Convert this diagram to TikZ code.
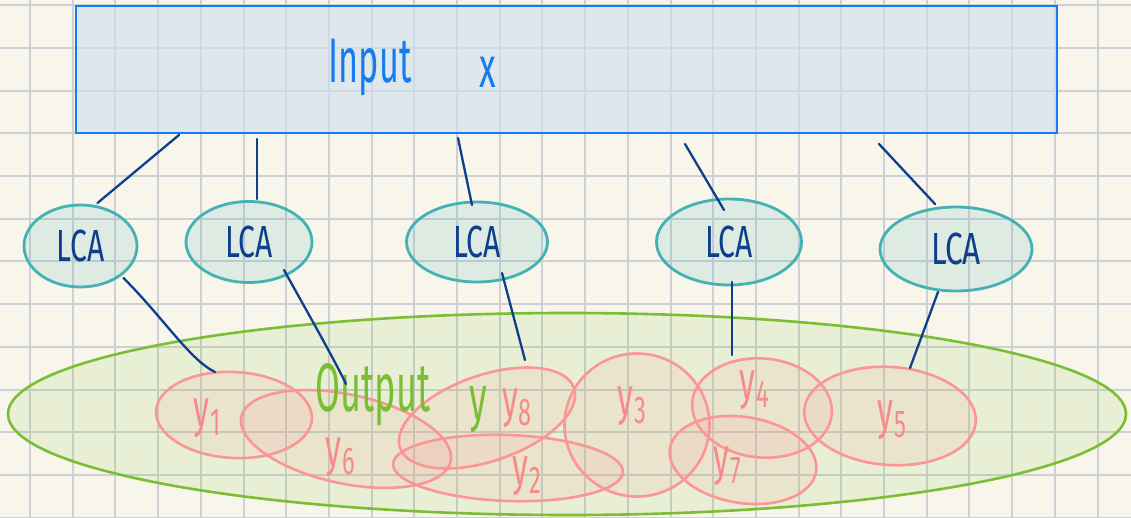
\documentclass[tikz,border=0pt]{standalone}
\usepackage{fontspec}
\setmainfont{Fira Sans}
\usetikzlibrary{shapes.geometric}
\definecolor{paper}{RGB}{248,246,235}
\definecolor{gridc}{RGB}{206,208,213}
\definecolor{boxblue}{RGB}{22,122,240}
\definecolor{boxfill}{RGB}{205,224,238}
\definecolor{lcateal}{RGB}{68,178,180}
\definecolor{linknavy}{RGB}{14,62,140}
\definecolor{outgreen}{RGB}{122,190,52}
\definecolor{pinkline}{RGB}{250,150,150}
\definecolor{pinktext}{RGB}{248,138,138}

% hand-lettered text: font size, horizontal and vertical stretch
\newcommand\handtxt[4]{\scalebox{#2}[#3]{\fontsize{#1}{#1}\selectfont #4}}
% cluster label y with a lowered index
\newcommand\ylabel[1]{\scalebox{0.95}[1.55]{\fontsize{34}{34}\selectfont y\kern1pt\raisebox{-6pt}{\fontsize{25}{25}\selectfont #1}}}

\begin{document}
\begin{tikzpicture}[x=1pt,y=-1pt,
  gridline/.style={draw=gridc, line width=2pt},
  inputbox/.style={rectangle, draw=boxblue, line width=2.8pt, fill=boxfill,
    fill opacity=0.6, text opacity=1, inner sep=0pt},
  lca/.style={ellipse, draw=lcateal, line width=2.8pt, fill=lcateal,
    fill opacity=0.15, text opacity=1, text=linknavy, inner sep=0pt},
  outset/.style={ellipse, draw=outgreen, line width=2.6pt, fill=outgreen,
    fill opacity=0.12, inner sep=0pt},
  ycls/.style={ellipse, draw=pinkline, line width=2.6pt, fill=pinkline,
    fill opacity=0.12, inner sep=0pt},
  ytext/.style={text=pinktext, inner sep=0pt},
  link/.style={draw=linknavy, line width=2.3pt, line cap=round}]

% paper and squared grid
\fill[paper] (0,0) rectangle (1131,518);
\useasboundingbox (0,0) rectangle (1131,518);
\foreach \i in {0,...,25} \draw[gridline] ({30+42.7*\i},0) -- ++(0,518);
\foreach \j in {0,...,12} \draw[gridline] (0,{5.3+42.7*\j}) -- ++(1131,0);

% input box
\node[inputbox, minimum width=981pt, minimum height=127pt] (inp) at (566.5,69.5) {};
\node[text=boxblue, inner sep=0pt] (inlab) at (370,68) {\handtxt{36}{0.95}{1.75}{Input}};
\node[text=boxblue, inner sep=0pt] (xlab) at (488,72) {\handtxt{36}{0.95}{1.6}{x}};

% output set
\node[outset, minimum width=1118pt, minimum height=202pt] (out) at (567,414) {};

% clusters inside the output
\node[ycls, minimum width=156pt, minimum height=86pt, rotate=-3] (y1) at (234,415) {};
\node[ycls, minimum width=214pt, minimum height=89pt, rotate=-12] (y6) at (346,439) {};
\node[ycls, minimum width=184pt, minimum height=86pt, rotate=19] (y8) at (487,418) {};
\node[ycls, minimum width=230pt, minimum height=66pt, rotate=-2] (y2) at (508,468) {};
\node[ycls, minimum width=145pt, minimum height=143pt] (y3) at (637,425) {};
\node[ycls, minimum width=140pt, minimum height=99pt, rotate=-5] (y4) at (762,408) {};
\node[ycls, minimum width=148pt, minimum height=86pt, rotate=-9] (y7) at (743,460) {};
\node[ycls, minimum width=172pt, minimum height=98pt, rotate=-4] (y5) at (890,416) {};

\node[text=outgreen, inner sep=0pt] (outlab) at (373,395) {\handtxt{38}{0.95}{1.8}{Output}};
\node[text=outgreen, inner sep=0pt] (ylab) at (478,410) {\handtxt{38}{0.95}{1.65}{y}};

\node[ytext] (t1) at (207,418) {\ylabel{1}};
\node[ytext] (t6) at (340,457) {\ylabel{6}};
\node[ytext] (t8) at (517,408) {\ylabel{8}};
\node[ytext] (t2) at (527,476) {\ylabel{2}};
\node[ytext] (t3) at (632,406) {\ylabel{3}};
\node[ytext] (t4) at (754,390) {\ylabel{4}};
\node[ytext] (t7) at (727,466) {\ylabel{7}};
\node[ytext] (t5) at (892,420) {\ylabel{5}};

% LCA nodes
\node[lca, minimum width=113pt, minimum height=82pt] (l1) at (80.5,246) {\handtxt{30}{1}{1.5}{LCA}};
\node[lca, minimum width=126pt, minimum height=81pt] (l2) at (249,242) {\handtxt{30}{1}{1.5}{LCA}};
\node[lca, minimum width=141pt, minimum height=80pt] (l3) at (477,242) {\handtxt{30}{1}{1.5}{LCA}};
\node[lca, minimum width=145pt, minimum height=86pt] (l4) at (729,242) {\handtxt{30}{1}{1.5}{LCA}};
\node[lca, minimum width=152pt, minimum height=84pt] (l5) at (956,249) {\handtxt{30}{1.05}{1.5}{LCA}};

% input to LCA
\draw[link] ([shift={(-387.5,65.5)}]inp.center) -- ([shift={(17,-43)}]l1.center);
\draw[link] ([shift={(-309.5,69.5)}]inp.center) -- ([shift={(8,-43)}]l2.center);
\draw[link] ([shift={(-108.5,68.5)}]inp.center) -- ([shift={(-5,-37)}]l3.center);
\draw[link] ([shift={(118.5,74.5)}]inp.center) -- ([shift={(-5,-32)}]l4.center);
\draw[link] ([shift={(312.5,74.5)}]inp.center) -- ([shift={(-21,-45)}]l5.center);

% LCA to clusters
\draw[link] ([shift={(43,32)}]l1.center) .. controls +(40,40) and +(-25,-12) .. ([shift={(-19,-43)}]y1.center);
\draw[link] ([shift={(35,28)}]l2.center) .. controls +(25,45) and +(-12,-25) .. ([shift={(0,-55)}]y6.center);
\draw[link] ([shift={(25,31)}]l3.center) -- ([shift={(38,-58)}]y8.center);
\draw[link] ([shift={(3,40)}]l4.center) -- ([shift={(-30,-53)}]y4.center);
\draw[link] ([shift={(-18,43)}]l5.center) -- ([shift={(20,-48)}]y5.center);
\end{tikzpicture}
\end{document}
